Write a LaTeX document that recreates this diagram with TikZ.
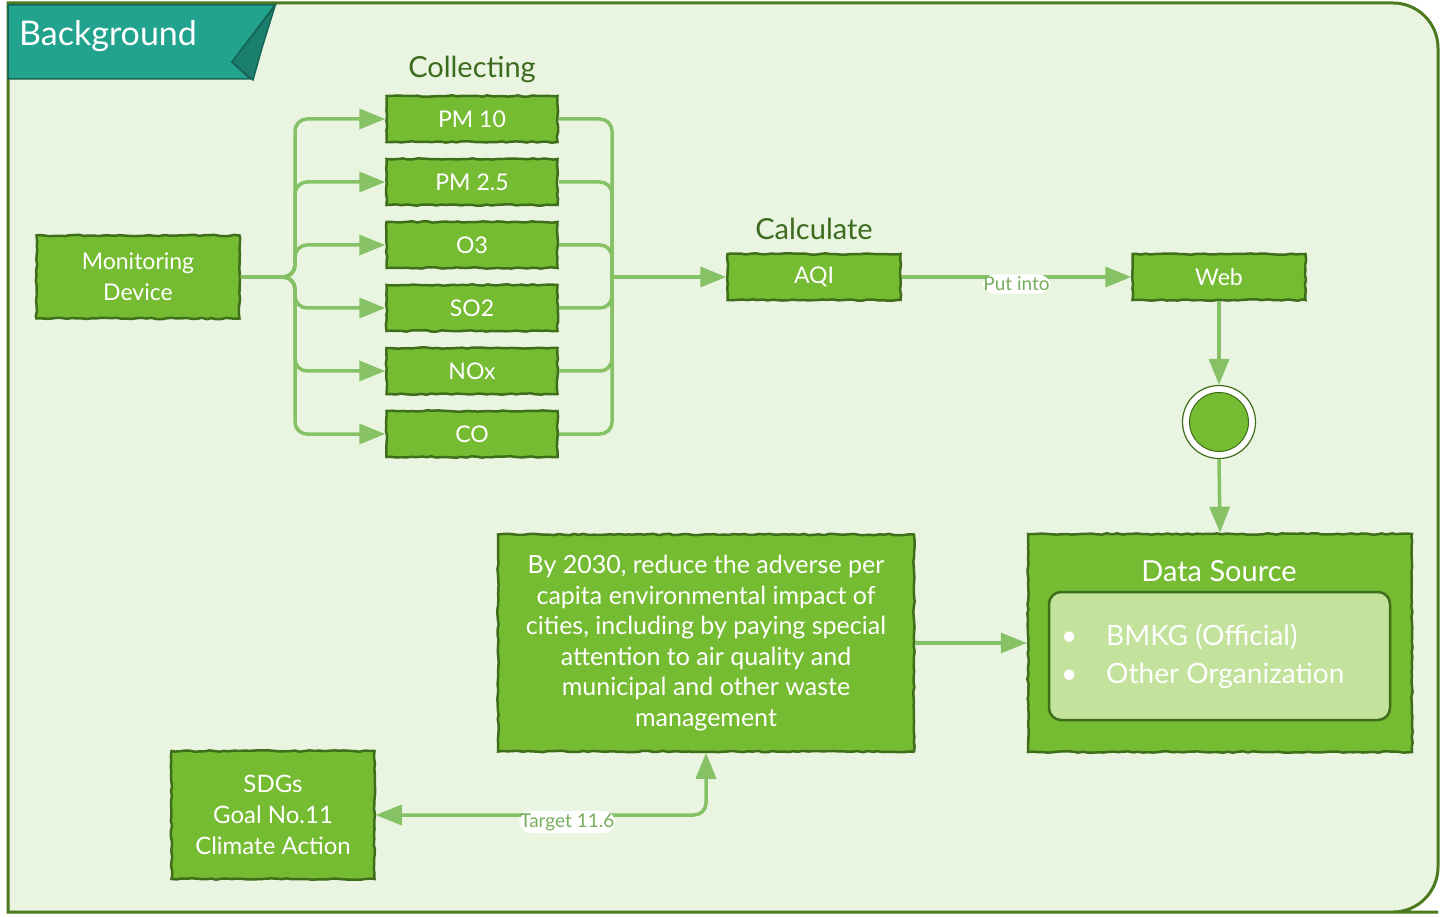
\documentclass[tikz,border=0pt]{standalone}
\usepackage{fontspec}
\setmainfont{Lato}
\usepackage{tikz}
\usetikzlibrary{arrows.meta, decorations.pathmorphing, positioning}
\definecolor{bgpaper}{HTML}{E9F5E1}
\definecolor{frameline}{HTML}{4B7A1F}
\definecolor{boxgreen}{HTML}{76BC32}
\definecolor{boxedge}{HTML}{3F6E1B}
\definecolor{linkgreen}{HTML}{86C166}
\definecolor{labelgreen}{HTML}{3C6B1E}
\definecolor{listgreen}{HTML}{C3E29C}
\definecolor{bannerteal}{HTML}{22A38E}
\definecolor{flapteal}{HTML}{1B7F6D}
\definecolor{banneredge}{HTML}{166657}

\begin{document}
\pgfmathsetseed{7}
\begin{tikzpicture}[x=1pt, y=-1pt,
    GBOX/.style={rectangle, draw=boxedge, fill=boxgreen, line width=2.5pt, text=white, inner sep=0pt, font=\fontsize{23}{27}\selectfont, decorate, decoration={random steps, segment length=5pt, amplitude=0.7pt}},
    LISTBOX/.style={rectangle, rounded corners=12pt, draw=boxedge, fill=listgreen, line width=2.5pt, inner sep=0pt},
    LINK/.style={draw=linkgreen, line width=3.5pt, rounded corners=12pt},
    TIP/.style={-{Triangle[length=26pt, width=20pt]}},
    TIPS/.style={{Triangle[length=26pt, width=20pt]}-{Triangle[length=26pt, width=20pt]}},
    CAP/.style={text=labelgreen, font=\fontsize{29}{33}\selectfont},
    TAG/.style={fill=white, text=linkgreen!90!black, inner xsep=1pt, inner ysep=2.5pt, font=\fontsize{19}{21}\selectfont}
    ]
    \useasboundingbox (0,0) rectangle (1441,917);
    % frame and banner
    \draw[fill=bgpaper, draw=frameline, line width=3pt] (8,912) -- (8,3) -- (1393,3) [rounded corners=45pt] -- (1438,3) -- (1438,912) -- (1393,912) [sharp corners] -- (8,912) -- cycle;
    \draw[fill=bannerteal, draw=banneredge, line width=1.5pt] (8,5) -- (275,5) -- (232,62) -- (250,79) -- (8,79) -- cycle;
    \draw[fill=flapteal, draw=banneredge, line width=1.5pt] (275,6) -- (232,62) -- (253,80) -- (262,48) -- cycle;
    \node[anchor=west, text=white, inner sep=0pt, font=\fontsize{34}{38}\selectfont] (bgtitle) at (19,36) {Background};

    % source and pollutants
    \node[GBOX, minimum width=203pt, minimum height=83pt, align=center, font=\fontsize{23}{31}\selectfont] (dev) at (138,277) {Monitoring\\Device};
    \node[CAP] (collect) at (472,69) {Collecting};
    \foreach \name/\txt/\yy in {pm10/PM 10/119, pm25/PM 2.5/182, ozone/O3/245, sox/SO2/308, nox/NOx/371, co/CO/434}
        \node[GBOX, minimum width=171pt, minimum height=46pt] (\name) at (472,\yy) {\txt};

    \node[GBOX, minimum width=173pt, minimum height=46pt] (aqi) at (814,277) {AQI};
    \node[CAP] (calc) at (814,229) {Calculate};
    \node[GBOX, minimum width=173pt, minimum height=46pt] (web) at (1219,277) {Web};

    \coordinate (lbus) at (295,277);
    \coordinate (rbus) at (612,277);
    \foreach \name in {pm10, pm25, ozone, sox, nox, co} {
        \draw[LINK, TIP] (dev.east) -- (lbus) |- (\name.west);
        \draw[LINK] (\name.east) -| (rbus);
    }
    \draw[LINK, TIP] (rbus) -- (aqi.west);
    \draw[LINK, TIP] (aqi.east) -- node[TAG, yshift=-7pt] (putinto) {Put into} (web.west);

    % hub
    \node[circle, draw=boxedge, line width=1.2pt, fill=white, minimum size=73pt, inner sep=0pt] (hub) at (1219,422) {};
    \node[circle, draw=boxedge, line width=1pt, fill=boxgreen, minimum size=59pt, inner sep=0pt] (hubdot) at (hub) {};

    % data source
    \node[GBOX, minimum width=384pt, minimum height=218pt] (src) at (1220,643) {};
    \node[text=white, font=\fontsize{29}{33}\selectfont] (srctitle) at (1219,571) {Data Source};
    \node[LISTBOX, minimum width=341pt, minimum height=128pt] (srclist) at (1219.5,656) {};
    \node[anchor=west, align=left, inner sep=0pt, text=white, font=\fontsize{28}{38}\selectfont] (srcitems) at (1061,656)
        {\makebox[45pt][l]{\textbullet}BMKG (Official)\\\makebox[45pt][l]{\textbullet}Other Organization};
    \draw[LINK, TIP] (web.south) -- (hub.north);
    \draw[LINK, TIP] (hub.south) -- (src.north);

    % SDG target
    \node[GBOX, minimum width=416pt, minimum height=217pt, align=center, font=\fontsize{25}{30.6}\selectfont] (target) at (706,643)
        {By 2030, reduce the adverse per\\capita environmental impact of\\cities, including by paying special\\attention to air quality and\\municipal and other waste\\management};
    \node[GBOX, minimum width=203pt, minimum height=128pt, align=center, font=\fontsize{24}{31}\selectfont] (sdg) at (273,815) {SDGs\\Goal No.11\\Climate Action};
    \draw[LINK, TIP] (target.east) -- (src.west);
    \draw[LINK, TIPS] (target.south) |- node[TAG, pos=0.71, yshift=-7pt] (tgt) {Target 11.6} (sdg.east);
\end{tikzpicture}
\end{document}
